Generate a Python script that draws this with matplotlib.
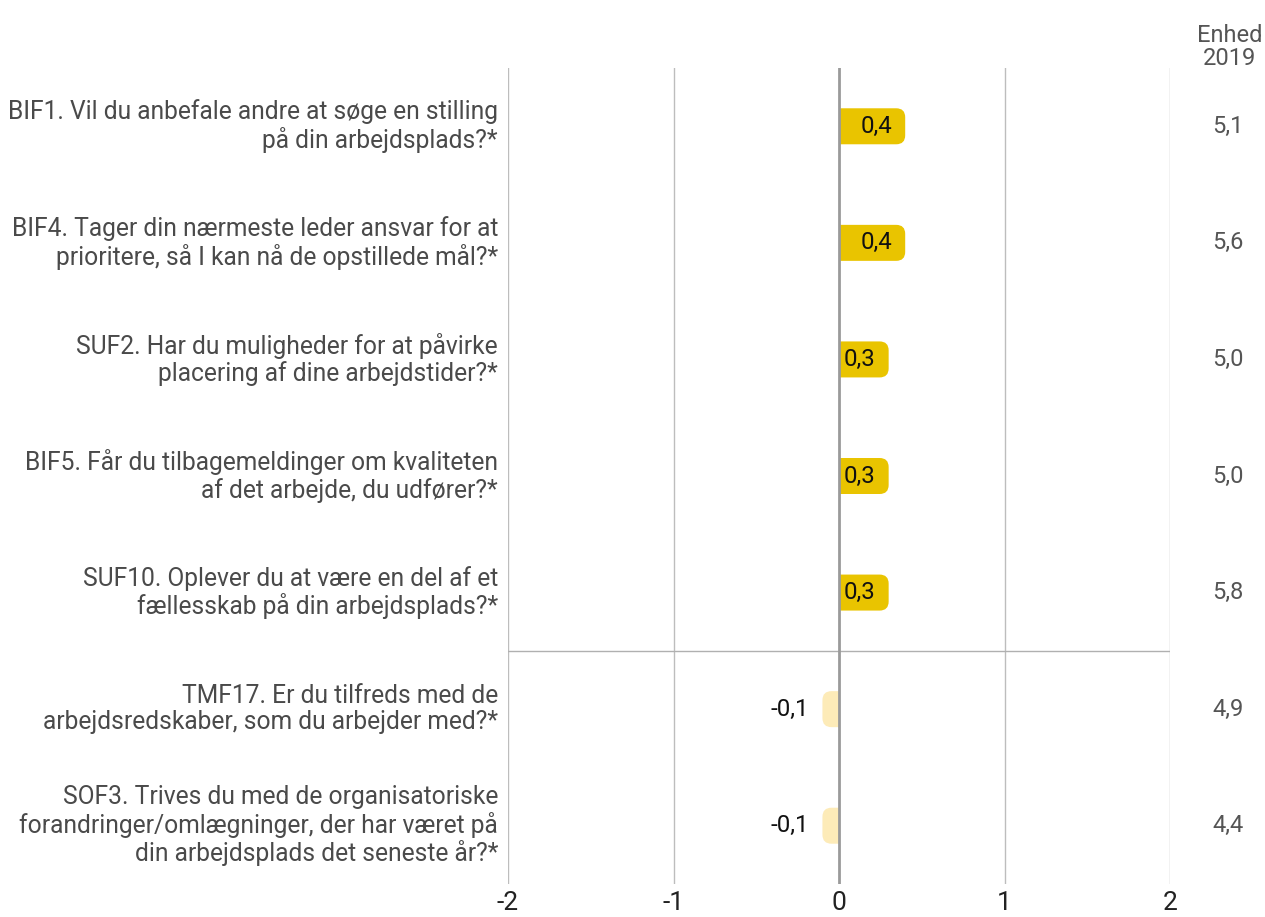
import matplotlib
matplotlib.use("Agg")
import matplotlib.pyplot as plt
from matplotlib.path import Path
from matplotlib.patches import PathPatch

plt.rcParams['font.family'] = ['Roboto', 'DejaVu Sans']

questions = [
    "BIF1. Vil du anbefale andre at søge en stilling\npå din arbejdsplads?*",
    "BIF4. Tager din nærmeste leder ansvar for at\nprioritere, så I kan nå de opstillede mål?*",
    "SUF2. Har du muligheder for at påvirke\nplacering af dine arbejdstider?*",
    "BIF5. Får du tilbagemeldinger om kvaliteten\naf det arbejde, du udfører?*",
    "SUF10. Oplever du at være en del af et\nfællesskab på din arbejdsplads?*",
    "TMF17. Er du tilfreds med de\narbejdsredskaber, som du arbejder med?*",
    "SOF3. Trives du med de organisatoriske\nforandringer/omlægninger, der har været på\ndin arbejdsplads det seneste år?*",
]
diffs = [0.4, 0.4, 0.3, 0.3, 0.3, -0.1, -0.1]
diff_labels = ["0,4", "0,4", "0,3", "0,3", "0,3", "-0,1", "-0,1"]
unit_values = ["5,1", "5,6", "5,0", "5,0", "5,8", "4,9", "4,4"]
x_ticks = [-2, -1, 0, 1, 2]
header = "Enhed\n2019"

POS = "#E9C400"
NEG = "#FDEBB8"
FS = 17

W, H = 1265, 917
fig = plt.figure(figsize=(W / 100, H / 100), dpi=100)
ax_left, ax_right = 508 / W, 1170 / W
ax_top, ax_bot = 1 - 68 / H, 1 - 884 / H
ax = fig.add_axes([ax_left, ax_bot, ax_right - ax_left, ax_top - ax_bot])

n = len(questions)
ypos = list(range(n))
ax.set_xlim(-2, 2)
ax.set_ylim(n - 0.5, -0.5)

# pixel -> data scale
px_x = 4 / 662.0
px_y = n / 816.0
bar_h = 36 * px_y
r_px = 9
rx, ry = r_px * px_x, r_px * px_y

bars = ax.barh(ypos, diffs, height=bar_h,
               color=[POS if v > 0 else NEG for v in diffs], zorder=3)

def rounded_end_path(x0, x1, y0, y1):
    s = 1 if x1 >= x0 else -1
    r = min(rx, abs(x1 - x0))
    verts = [(x0, y0), (x1 - s * r, y0), (x1, y0), (x1, y0 + ry),
             (x1, y1 - ry), (x1, y1), (x1 - s * r, y1), (x0, y1), (x0, y0)]
    codes = [Path.MOVETO, Path.LINETO, Path.CURVE3, Path.CURVE3,
             Path.LINETO, Path.CURVE3, Path.CURVE3, Path.LINETO, Path.CLOSEPOLY]
    return Path(verts, codes)

for b in bars:
    x0 = b.get_x()
    w = b.get_width()
    y0 = b.get_y()
    h = b.get_height()
    p = rounded_end_path(x0, x0 + w, y0, y0 + h)
    patch = PathPatch(p, facecolor=b.get_facecolor(), edgecolor='none', zorder=3)
    ax.add_patch(patch)
    b.set_visible(False)

# bar value labels: right-aligned ~13px left of bar end
for y, v, lab in zip(ypos, diffs, diff_labels):
    ax.text(v - 13 * px_x, y, lab, ha='right', va='center', fontsize=FS + 0.3,
            color='#111111', zorder=4)

# grid
for t in x_ticks:
    if t == 0:
        ax.axvline(t, color='#9a9a9a', lw=2.0, zorder=5)
    else:
        ax.axvline(t, color='#bdbdbd', lw=1.0, zorder=1)
ax.axhline(4.5, color='#b0b0b0', lw=1.0, zorder=1)

ax.set_xticks(x_ticks)
ax.set_xticklabels([str(t) for t in x_ticks], fontsize=FS + 2, color='#222222')
ax.tick_params(axis='x', length=0, pad=5)
ax.set_yticks([])
for s in ax.spines.values():
    s.set_visible(False)

# question labels
for y, q in zip(ypos, questions):
    ax.text(-2 - 10 * px_x, y, q, ha='right', va='center', fontsize=FS + 0.7,
            color='#4a4a4a', linespacing=1.12, clip_on=False)

# right column
xr = 2 + (1228 - 1170) * px_x
for y, u in zip(ypos, unit_values):
    ax.text(xr, y, u, ha='center', va='center', fontsize=FS, color='#555555', clip_on=False)
fig.text(1230 / W, 1 - 47 / H, header, ha='center', va='center', fontsize=FS,
         color='#555555', linespacing=1.0)

fig.savefig("out.png", dpi=100)
